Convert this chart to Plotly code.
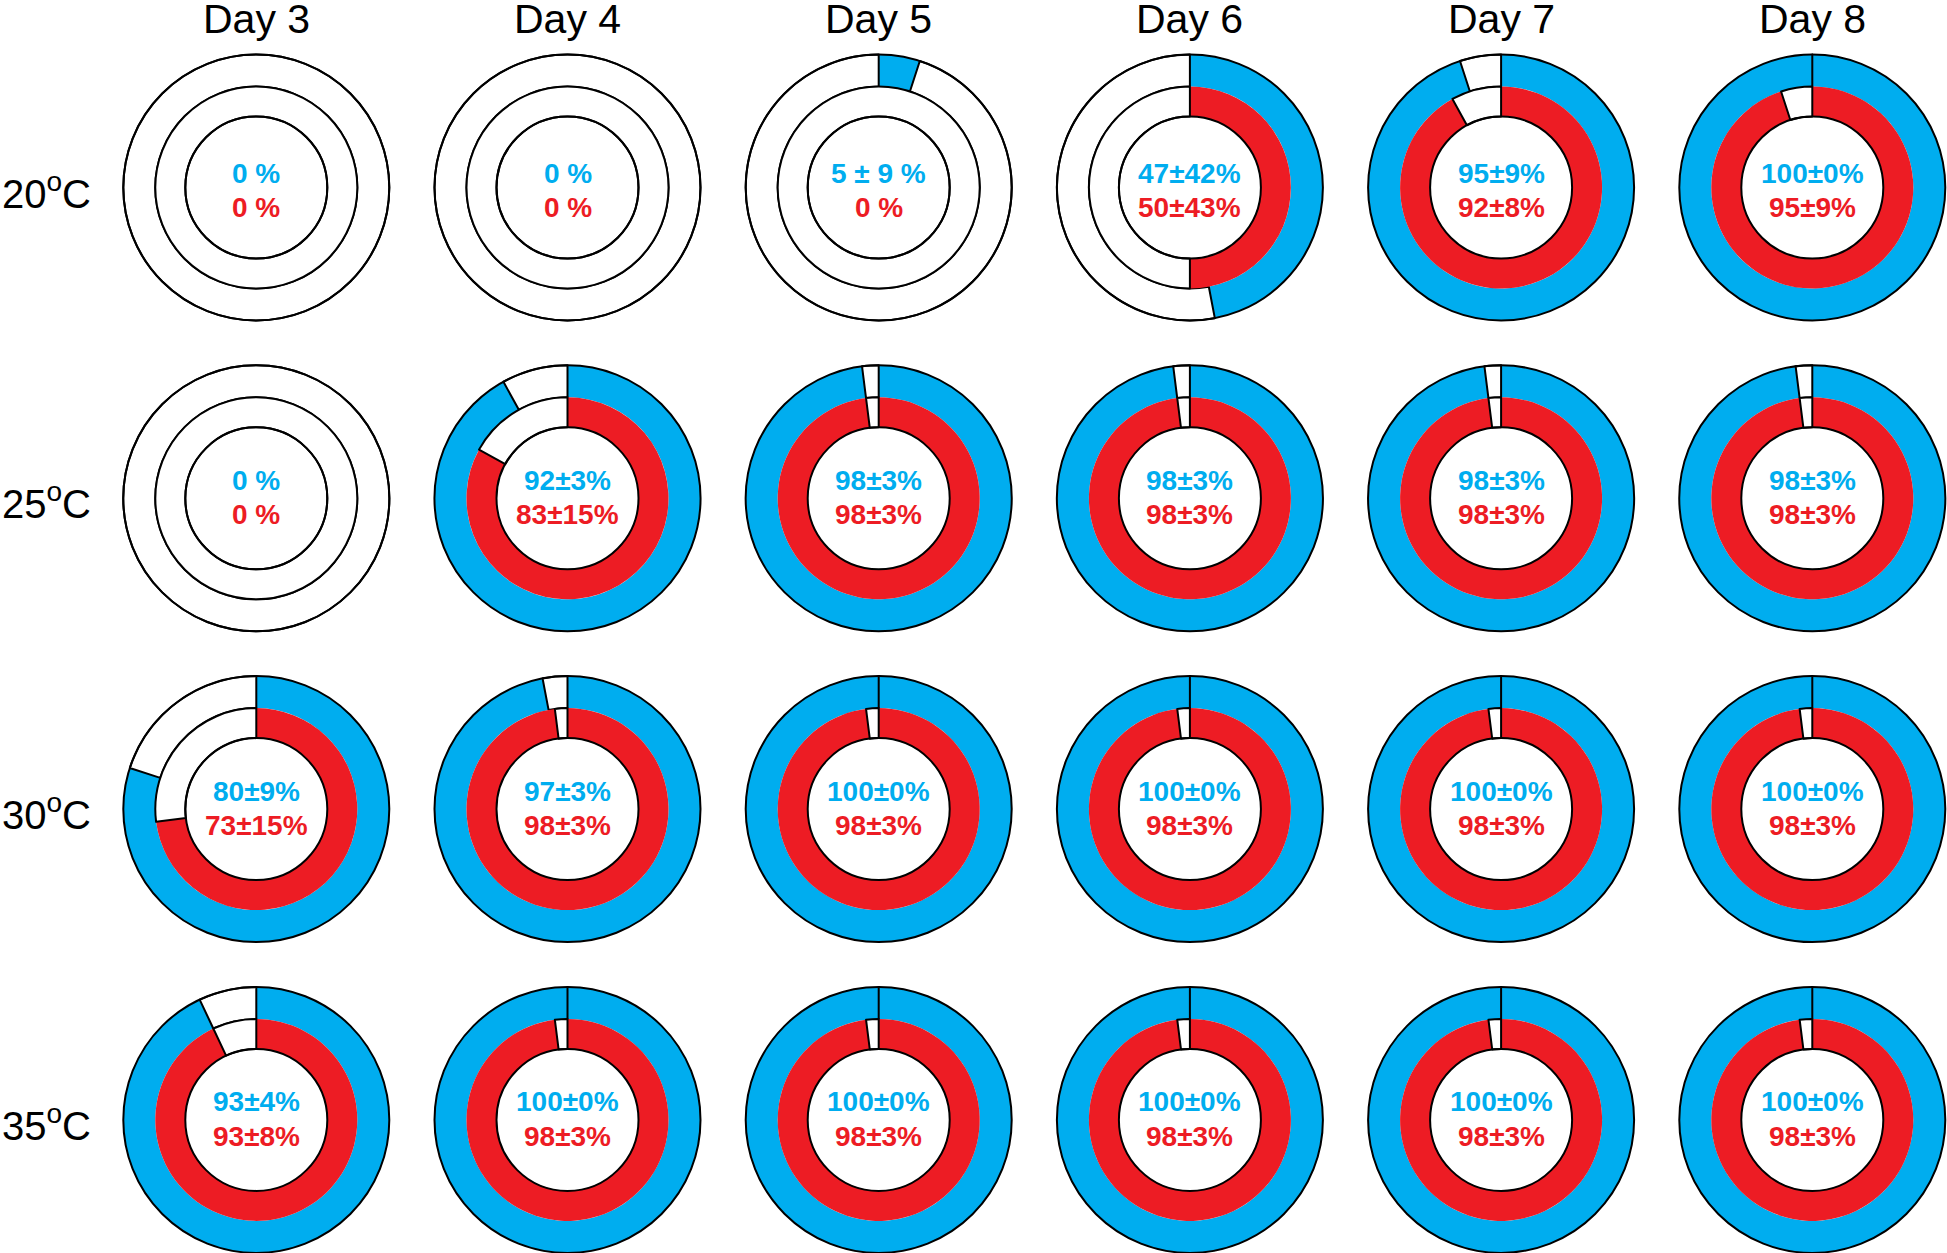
import plotly.graph_objects as go

W, H = 1947, 1253

days = ["Day 3", "Day 4", "Day 5", "Day 6", "Day 7", "Day 8"]
temps = ["20", "25", "30", "35"]

# outer ring (blue) mean values, % ; rows = temperatures, cols = days
blue_mean = [
    [0, 0, 5, 47, 95, 100],
    [0, 92, 98, 98, 98, 98],
    [80, 97, 100, 100, 100, 100],
    [93, 100, 100, 100, 100, 100],
]
# inner ring (red) mean values, %
red_mean = [
    [0, 0, 0, 50, 92, 95],
    [0, 83, 98, 98, 98, 98],
    [73, 98, 98, 98, 98, 98],
    [93, 98, 98, 98, 98, 98],
]
blue_labels = [
    ["0 %", "0 %", "5 ± 9 %", "47±42%", "95±9%", "100±0%"],
    ["0 %", "92±3%", "98±3%", "98±3%", "98±3%", "98±3%"],
    ["80±9%", "97±3%", "100±0%", "100±0%", "100±0%", "100±0%"],
    ["93±4%", "100±0%", "100±0%", "100±0%", "100±0%", "100±0%"],
]
red_labels = [
    ["0 %", "0 %", "0 %", "50±43%", "92±8%", "95±9%"],
    ["0 %", "83±15%", "98±3%", "98±3%", "98±3%", "98±3%"],
    ["73±15%", "98±3%", "98±3%", "98±3%", "98±3%", "98±3%"],
    ["93±8%", "98±3%", "98±3%", "98±3%", "98±3%", "98±3%"],
]

BLUE = "#00ADEF"
RED = "#ED1C24"

col_cx = [256.3 + 311.2 * j for j in range(6)]
row_cy = [187.5 + 310.8 * i for i in range(4)]
R_OUT, R_MID, R_IN = 133, 101, 71


def dom(cx, cy, r):
    return dict(x=[(cx - r) / W, (cx + r) / W], y=[1 - (cy + r) / H, 1 - (cy - r) / H])


def ring_values(m):
    # a 0 % ring is drawn as a plain white ring
    return [None if m == 0 else m, 100 - m]


def ring(m, color, r_outer, r_hole, cx, cy):
    return go.Pie(
        values=ring_values(m), labels=["yes", "no"],
        sort=False, direction="clockwise", rotation=0,
        hole=r_hole / r_outer, domain=dom(cx, cy, r_outer),
        marker=dict(colors=[color, "white"], line=dict(color="black", width=[0, 2])),
        textinfo="none", hoverinfo="skip", showlegend=False,
    )


def outline(r, cx, cy):
    return go.Pie(
        values=[1], labels=["o"], sort=False, domain=dom(cx, cy, r),
        marker=dict(colors=["rgba(0,0,0,0)"], line=dict(color="black", width=2)),
        textinfo="none", hoverinfo="skip", showlegend=False,
    )


fig = go.Figure()
annotations = []
for i, t in enumerate(temps):
    for j, d in enumerate(days):
        cx, cy = col_cx[j], row_cy[i]
        fig.add_trace(ring(blue_mean[i][j], BLUE, R_OUT, R_MID, cx, cy))
        fig.add_trace(ring(red_mean[i][j], RED, R_MID, R_IN, cx, cy))
        fig.add_trace(outline(R_OUT, cx, cy))
        fig.add_trace(outline(R_IN, cx, cy))
        off_b, off_r = (-14.5, 20) if i == 0 else (-18, 16.5)
        annotations.append(dict(
            x=cx / W, y=1 - (cy + off_b) / H, xref="paper", yref="paper",
            text=blue_labels[i][j], showarrow=False, xanchor="center", yanchor="middle",
            font=dict(family="Liberation Sans, Arial", size=28, color=BLUE, weight="bold"),
        ))
        annotations.append(dict(
            x=cx / W, y=1 - (cy + off_r) / H, xref="paper", yref="paper",
            text=red_labels[i][j], showarrow=False, xanchor="center", yanchor="middle",
            font=dict(family="Liberation Sans, Arial", size=28, color=RED, weight="bold"),
        ))

for j, d in enumerate(days):
    annotations.append(dict(
        x=col_cx[j] / W, y=1 - 19 / H, xref="paper", yref="paper", text=d,
        showarrow=False, xanchor="center", yanchor="middle",
        font=dict(family="Liberation Sans, Arial", size=41, color="black"),
    ))
for i, t in enumerate(temps):
    annotations.append(dict(
        x=0, y=1 - (row_cy[i] + 3) / H, xref="paper", yref="paper",
        text=f"{t}<sup>o</sup>C", showarrow=False, xanchor="left", yanchor="middle",
        font=dict(family="Liberation Sans, Arial", size=40, color="black"),
    ))

fig.update_layout(
    width=W, height=H, margin=dict(l=0, r=0, t=0, b=0),
    paper_bgcolor="white", plot_bgcolor="white",
    annotations=annotations,
)
fig.write_html("out.html", config={"displayModeBar": False},
               post_script="document.body.style.margin='0';")
